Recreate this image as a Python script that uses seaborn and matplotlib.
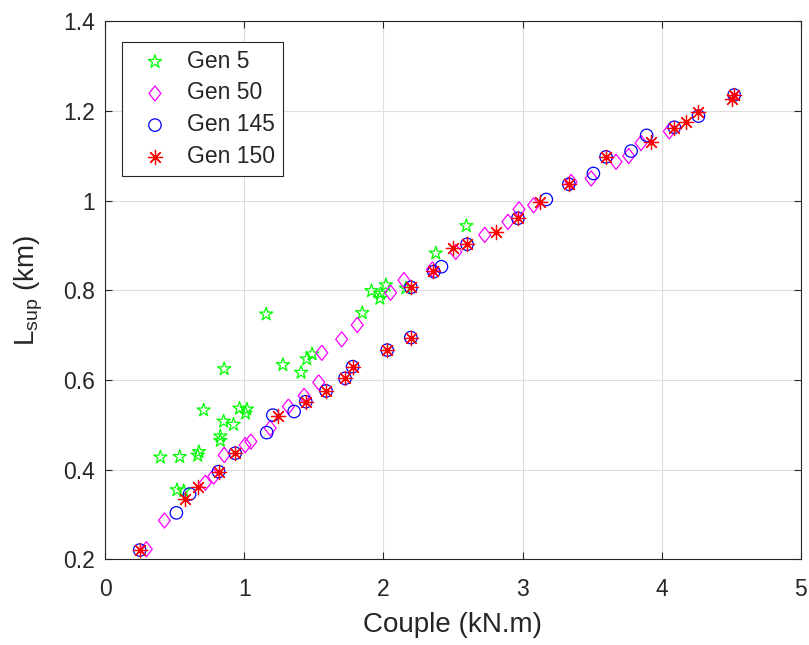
import pandas as pd
import matplotlib
matplotlib.use("Agg")
import matplotlib.pyplot as plt
import seaborn as sns

# values
x_gen5 = [0.395, 0.514, 0.534, 0.563, 0.663, 0.672, 0.706, 0.826, 0.826, 0.850,
          0.854, 0.921, 0.964, 1.007, 1.017, 1.156, 1.276, 1.407, 1.448, 1.486,
          1.847, 1.914, 1.974, 1.979, 2.017, 2.161, 2.376, 2.596]
y_gen5 = [0.428, 0.355, 0.429, 0.353, 0.432, 0.440, 0.533, 0.465, 0.475, 0.508,
          0.625, 0.501, 0.537, 0.526, 0.535, 0.747, 0.634, 0.617, 0.647, 0.658,
          0.750, 0.799, 0.782, 0.793, 0.812, 0.805, 0.883, 0.944]

x_gen50 = [0.294, 0.424, 0.718, 0.778, 0.854, 1.005, 1.046, 1.185, 1.316, 1.429,
           1.534, 1.556, 1.699, 1.811, 2.051, 2.147, 2.352, 2.520, 2.728, 2.895,
           2.975, 3.080, 3.350, 3.494, 3.673, 3.764, 3.853, 4.056]
y_gen50 = [0.223, 0.287, 0.371, 0.385, 0.433, 0.455, 0.463, 0.493, 0.541, 0.565,
           0.595, 0.661, 0.691, 0.723, 0.795, 0.823, 0.847, 0.886, 0.924, 0.953,
           0.981, 0.990, 1.042, 1.050, 1.087, 1.100, 1.129, 1.155]

x_gen145 = [0.246, 0.510, 0.605, 0.813, 0.933, 1.160, 1.204, 1.357, 1.441, 1.587,
            1.723, 1.778, 2.027, 2.197, 2.197, 2.362, 2.417, 2.601, 2.967, 3.171,
            3.333, 3.510, 3.601, 3.781, 3.893, 4.092, 4.266, 4.523]
y_gen145 = [0.221, 0.304, 0.346, 0.396, 0.437, 0.483, 0.522, 0.530, 0.552, 0.576,
            0.604, 0.630, 0.667, 0.695, 0.807, 0.842, 0.853, 0.903, 0.961, 1.003,
            1.037, 1.061, 1.098, 1.111, 1.146, 1.164, 1.189, 1.236]

x_gen150 = [0.246, 0.574, 0.665, 0.813, 0.933, 1.240, 1.441, 1.587, 1.723, 1.778,
            2.027, 2.197, 2.197, 2.357, 2.500, 2.601, 2.807, 2.967, 3.123, 3.333,
            3.601, 3.924, 4.092, 4.176, 4.266, 4.506, 4.523]
y_gen150 = [0.221, 0.334, 0.362, 0.396, 0.437, 0.520, 0.552, 0.576, 0.604, 0.630,
            0.667, 0.695, 0.807, 0.843, 0.894, 0.903, 0.931, 0.961, 0.998, 1.037,
            1.098, 1.132, 1.163, 1.176, 1.198, 1.228, 1.236]

labels = ["Gen 5", "Gen 50", "Gen 145", "Gen 150"]
colors = ["#00ff00", "#ff00ff", "#0000ff", "#ff0000"]

df = pd.concat([
    pd.DataFrame({"couple": x_gen5, "lsup": y_gen5, "gen": labels[0]}),
    pd.DataFrame({"couple": x_gen50, "lsup": y_gen50, "gen": labels[1]}),
    pd.DataFrame({"couple": x_gen145, "lsup": y_gen145, "gen": labels[2]}),
    pd.DataFrame({"couple": x_gen150, "lsup": y_gen150, "gen": labels[3]}),
])

sns.set_style("ticks")
plt.rcParams["font.family"] = ["Liberation Sans", "DejaVu Sans"]
plt.rcParams["text.color"] = "#262626"

diamond = [(0, 1), (0.78, 0), (0, -1), (-0.78, 0), (0, 1)]
markers = ["*", diamond, "o", (8, 2, 0)]
sizes = [100, 120, 80, 105]
open_marker = [True, True, True, False]

fig = plt.figure(figsize=(8.09, 6.45), dpi=100)
ax = fig.add_axes([0.1304, 0.1326, 0.8591, 0.8341])

for lab, col, mk, sz, hollow in zip(labels, colors, markers, sizes, open_marker):
    sns.scatterplot(data=df[df["gen"] == lab], x="couple", y="lsup",
                    marker=mk, s=sz, color=col, linewidth=0.9, label=lab,
                    ax=ax, zorder=3)
    pts = ax.collections[-1]
    if hollow:
        pts.set_facecolor("none")
    pts.set_edgecolor(col)

ax.set_xlim(0, 5)
ax.set_ylim(0.2, 1.4)
ax.set_xticks([0, 1, 2, 3, 4, 5])
ax.set_xticklabels(["0", "1", "2", "3", "4", "5"])
ax.set_yticks([0.2, 0.4, 0.6, 0.8, 1.0, 1.2, 1.4])
ax.set_yticklabels(["0.2", "0.4", "0.6", "0.8", "1", "1.2", "1.4"])
ax.grid(True, color="#dedede", linewidth=0.8)
ax.set_axisbelow(True)

for sp in ax.spines.values():
    sp.set_visible(True)
    sp.set_color("#262626")
    sp.set_linewidth(0.8)
ax.tick_params(direction="in", length=5, width=0.8, colors="#262626",
               labelsize=16.5, top=True, right=True)
ax.tick_params(axis="x", pad=13)
ax.tick_params(axis="y", pad=7.5)

ax.set_xlabel("Couple (kN.m)", fontsize=20, color="#262626", labelpad=8)
ax.set_ylabel(r"L$_\mathregular{sup}$ (km)", fontsize=20, color="#262626",
              labelpad=13)

leg = ax.legend(loc="upper left", bbox_to_anchor=(0.0237, 0.962),
                borderaxespad=0, fontsize=16.5, frameon=True, fancybox=False,
                framealpha=1, edgecolor="#262626", handlelength=2.2,
                handletextpad=0.3, labelspacing=0.38, borderpad=0.34)
leg.get_frame().set_linewidth(0.8)

fig.savefig("out.png", dpi=100)
